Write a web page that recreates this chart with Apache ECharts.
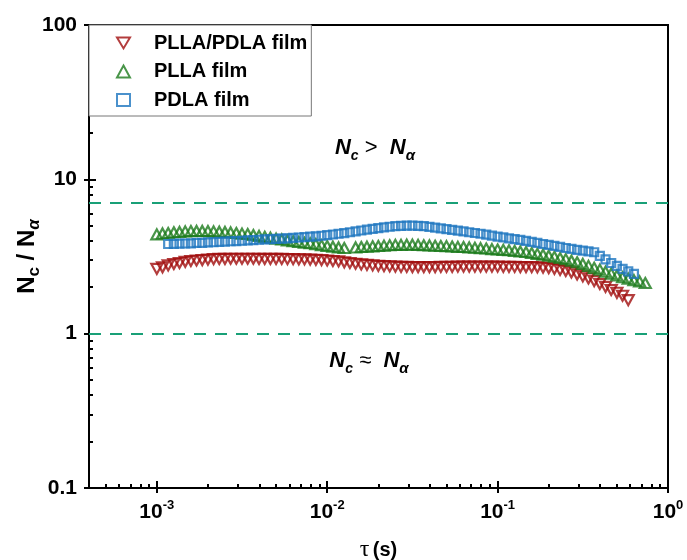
<!DOCTYPE html>
<html><head><meta charset="utf-8">
<script src="https://cdn.jsdelivr.net/npm/echarts@6/dist/echarts.min.js"></script>
<style>html,body{margin:0;padding:0;background:#fff}#c{width:687px;height:560px}</style>
</head><body><div id="c"></div>
<script>
// relaxation time tau (s)
const tau = [
  0.001, 0.00108, 0.001166, 0.001259, 0.001359, 0.001468, 0.001585, 0.001711, 0.001848, 0.001995,
  0.002154, 0.002326, 0.002512, 0.002712, 0.002929, 0.003162, 0.003415, 0.003687, 0.003981, 0.004299,
  0.004642, 0.005012, 0.005412, 0.005843, 0.00631, 0.006813, 0.007356, 0.007943, 0.008577, 0.009261,
  0.01, 0.0108, 0.01166, 0.01259, 0.01359, 0.01468, 0.01585, 0.01711, 0.01848, 0.01995,
  0.02154, 0.02326, 0.02512, 0.02712, 0.02929, 0.03162, 0.03415, 0.03687, 0.03981, 0.04299,
  0.04642, 0.05012, 0.05412, 0.05843, 0.0631, 0.06813, 0.07356, 0.07943, 0.08577, 0.09261,
  0.1, 0.108, 0.1166, 0.1259, 0.1359, 0.1468, 0.1585, 0.1711, 0.1848, 0.1995,
  0.2154, 0.2326, 0.2512, 0.2712, 0.2929, 0.3162, 0.3415, 0.3687, 0.3981, 0.4299,
  0.4642, 0.5012, 0.5412, 0.5843, 0.631, 0.6813, 0.7356
];
// Nc / Nalpha, PLLA/PDLA film
const blendFilm = [
  2.63, 2.69, 2.77, 2.83, 2.87, 2.92, 2.96, 2.98, 3.00, 3.02,
  3.04, 3.05, 3.05, 3.06, 3.06, 3.06, 3.06, 3.06, 3.05, 3.05,
  3.05, 3.05, 3.05, 3.04, 3.04, 3.03, 3.03, 3.02, 3.01, 3.00,
  2.98, 2.96, 2.94, 2.90, 2.87, 2.84, 2.81, 2.79, 2.77, 2.75,
  2.74, 2.73, 2.72, 2.71, 2.71, 2.70, 2.70, 2.70, 2.70, 2.70,
  2.71, 2.71, 2.71, 2.72, 2.72, 2.72, 2.72, 2.72, 2.72, 2.72,
  2.72, 2.71, 2.71, 2.71, 2.70, 2.70, 2.70, 2.69, 2.68, 2.66,
  2.63, 2.59, 2.55, 2.49, 2.42, 2.35, 2.28, 2.19, 2.10, 2.01,
  1.92, 1.84, 1.76, 1.65
];
// PLLA film
const pllaFilm = [
  4.40, 4.46, 4.49, 4.54, 4.56, 4.60, 4.62, 4.63, 4.63, 4.62,
  4.60, 4.58, 4.56, 4.53, 4.49, 4.45, 4.42, 4.36, 4.30, 4.24,
  4.19, 4.13, 4.08, 4.02, 3.97, 3.93, 3.88, 3.85, 3.80, 3.74,
  3.70, 3.66, 3.62, 3.59, null, 3.62, 3.64, 3.66, 3.68, 3.70,
  3.72, 3.74, 3.76, 3.76, 3.77, 3.77, 3.76, 3.74, 3.73, 3.71,
  3.70, 3.69, 3.67, 3.65, 3.64, 3.62, 3.60, 3.58, 3.56, 3.53,
  3.51, 3.49, 3.47, 3.44, 3.41, 3.38, 3.33, 3.29, 3.25, 3.20,
  3.15, 3.09, 3.04, 2.97, 2.90, 2.83, 2.75, 2.67, 2.60, 2.52,
  2.45, 2.38, 2.32, 2.27, 2.22, 2.18, 2.13
];
// PDLA film
const pdlaFilm = [
  null, null, 3.81, 3.82, 3.83, 3.84, 3.85, 3.87, 3.88, 3.90,
  3.91, 3.93, 3.95, 3.97, 3.98, 4.00, 4.02, 4.04, 4.06, 4.08,
  4.09, 4.11, 4.13, 4.15, 4.17, 4.20, 4.22, 4.25, 4.27, 4.31,
  4.35, 4.39, 4.44, 4.48, 4.54, 4.60, 4.66, 4.72, 4.77, 4.83,
  4.88, 4.93, 4.97, 4.99, 5.01, 5.01, 4.99, 4.97, 4.92, 4.86,
  4.81, 4.76, 4.70, 4.65, 4.60, 4.54, 4.49, 4.44, 4.38, 4.32,
  4.26, 4.21, 4.15, 4.10, 4.05, 3.99, 3.93, 3.87, 3.81, 3.76,
  3.70, 3.65, 3.59, 3.54, 3.49, 3.45, 3.41, 3.37, 3.19, 3.03,
  2.87, 2.75, 2.63, 2.53, 2.44
];
const seriesNames = ['PLLA/PDLA film', 'PLLA film', 'PDLA film'];
const refLines = [7, 1];
const xMajor = [0.001, 0.01, 0.1, 1];
const xExponents = ['-3', '-2', '-1', '0'];
const xMinor = [0.0005, 0.0006, 0.0007, 0.0008, 0.0009,
  0.002, 0.003, 0.004, 0.005, 0.006, 0.007, 0.008, 0.009,
  0.02, 0.03, 0.04, 0.05, 0.06, 0.07, 0.08, 0.09,
  0.2, 0.3, 0.4, 0.5, 0.6, 0.7, 0.8, 0.9];
const yMajor = [0.1, 1, 10, 100];
const yTickLabels = ['0.1', '1', '10', '100'];
const yMinor = [0.2, 0.3, 0.4, 0.5, 0.6, 0.7, 0.8, 0.9,
  2, 3, 4, 5, 6, 7, 8, 9, 20, 30, 40, 50, 60, 70, 80, 90];

const FONT = 'Liberation Sans, Arial, sans-serif';
const pairs = (vals) => vals.map((v, i) => [tau[i], v]).filter(p => p[1] != null);
const nearest = (arr, v) => {
  let best = 0, d = Infinity;
  arr.forEach((m, i) => { const dd = Math.abs(Math.log10(m) - Math.log10(v)); if (dd < d) { d = dd; best = i; } });
  return best;
};

const chart = echarts.init(document.getElementById('c'), null, {renderer: 'canvas'});

const baseX = {type: 'log', logBase: 10, min: 0.0004, max: 1, position: 'bottom', gridIndex: 0,
  splitLine: {show: false}, minorTick: {show: false}};
const baseY = {type: 'log', logBase: 10, min: 0.1, max: 100, position: 'left', gridIndex: 0,
  splitLine: {show: false}, minorTick: {show: false}};

const colors = ['#a00c0c', '#1b7a1b', '#1d76bf'];

chart.setOption({
  animation: false,
  backgroundColor: '#fff',
  grid: {left: 89, top: 25, right: 19, bottom: 72, containLabel: false, outerBoundsMode: 'none',
    show: true, borderColor: '#000', borderWidth: 2, backgroundColor: 'transparent'},
  legend: {
    orient: 'vertical', left: 89, top: 25,
    padding: [8, 4, 6, 27],
    itemWidth: 13, itemHeight: 12, itemGap: 8.5,
    borderColor: '#777', borderWidth: 1, backgroundColor: '#fff',
    textStyle: {fontSize: 20, fontWeight: 'bold', color: '#000', fontFamily: FONT, padding: [0, 0, 0, 19]},
    data: [
      {name: seriesNames[0], icon: 'path://M0,0L12,0L6,10Z'},
      {name: seriesNames[1]},
      {name: seriesNames[2]}
    ]
  },
  xAxis: [
    Object.assign({}, baseX, {
      axisLine: {show: true, onZero: false, lineStyle: {color: '#000', width: 2}},
      axisTick: {show: true, inside: false, length: 5, customValues: xMajor, lineStyle: {color: '#000', width: 2}},
      axisLabel: {show: true, margin: 11, customValues: xMajor,
        formatter: (v) => '{b|10}{s|' + xExponents[nearest(xMajor, v)] + '}',
        rich: {
          b: {fontSize: 21, fontWeight: 'bold', fontFamily: FONT, color: '#000', lineHeight: 26},
          s: {fontSize: 13, fontWeight: 'bold', fontFamily: FONT, color: '#000', lineHeight: 13, verticalAlign: 'top'}
        }},
      name: '{t|τ} {s|(s)}', nameLocation: 'middle', nameGap: 50, nameMoveOverlap: false,
      nameTextStyle: {rich: {
        t: {fontSize: 24, fontFamily: 'Liberation Serif, serif', color: '#000'},
        s: {fontSize: 20, fontWeight: 'bold', fontFamily: FONT, color: '#000'}
      }}
    }),
    Object.assign({}, baseX, {
      axisLine: {show: false, onZero: false},
      axisTick: {show: true, inside: true, length: 7, customValues: xMajor, lineStyle: {color: '#000', width: 2}},
      axisLabel: {show: false}
    }),
    Object.assign({}, baseX, {
      axisLine: {show: false, onZero: false},
      axisTick: {show: true, inside: true, length: 4, customValues: xMinor, lineStyle: {color: '#000', width: 2}},
      axisLabel: {show: false}
    })
  ],
  yAxis: [
    Object.assign({}, baseY, {
      axisLine: {show: true, onZero: false, lineStyle: {color: '#000', width: 2}},
      axisTick: {show: true, inside: false, length: 5, customValues: yMajor, lineStyle: {color: '#000', width: 2}},
      axisLabel: {show: true, margin: 12, customValues: yMajor,
        formatter: (v) => yTickLabels[nearest(yMajor, v)],
        fontSize: 21, fontWeight: 'bold', fontFamily: FONT, color: '#000'},
      name: '{N|N}{c|c}{N| / N}{a|α}', nameLocation: 'middle', nameGap: 46, nameMoveOverlap: false,
      nameTextStyle: {rich: {
        N: {fontSize: 24, fontWeight: 'bold', fontFamily: FONT, color: '#000', lineHeight: 32},
        c: {fontSize: 17, fontWeight: 'bold', fontFamily: FONT, color: '#000', lineHeight: 14, verticalAlign: 'bottom'},
        a: {fontSize: 17, fontWeight: 'bold', fontStyle: 'italic', fontFamily: FONT, color: '#000', lineHeight: 14, verticalAlign: 'bottom'}
      }}
    }),
    Object.assign({}, baseY, {
      axisLine: {show: false, onZero: false},
      axisTick: {show: true, inside: true, length: 7, customValues: yMajor, lineStyle: {color: '#000', width: 2}},
      axisLabel: {show: false}
    }),
    Object.assign({}, baseY, {
      axisLine: {show: false, onZero: false},
      axisTick: {show: true, inside: true, length: 4, customValues: yMinor, lineStyle: {color: '#000', width: 2}},
      axisLabel: {show: false}
    })
  ],
  graphic: [
    {type: 'text', x: 375, y: 148, z: 10, style: {
      text: '{N|N}{c|c}{op| >  }{N|N}{a|α}', align: 'center', verticalAlign: 'middle',
      rich: {
        N: {fontSize: 22, fontWeight: 'bold', fontStyle: 'italic', fontFamily: FONT, fill: '#000', lineHeight: 30},
        c: {fontSize: 14, fontWeight: 'bold', fontStyle: 'italic', fontFamily: FONT, fill: '#000', lineHeight: 14, verticalAlign: 'bottom'},
        a: {fontSize: 15, fontWeight: 'bold', fontStyle: 'italic', fontFamily: FONT, fill: '#000', lineHeight: 14, verticalAlign: 'bottom'},
        op: {fontSize: 22, fontFamily: FONT, fill: '#000', lineHeight: 30}
      }}},
    {type: 'text', x: 369, y: 361, z: 10, style: {
      text: '{N|N}{c|c}{op| ≈  }{N|N}{a|α}', align: 'center', verticalAlign: 'middle',
      rich: {
        N: {fontSize: 22, fontWeight: 'bold', fontStyle: 'italic', fontFamily: FONT, fill: '#000', lineHeight: 30},
        c: {fontSize: 14, fontWeight: 'bold', fontStyle: 'italic', fontFamily: FONT, fill: '#000', lineHeight: 14, verticalAlign: 'bottom'},
        a: {fontSize: 15, fontWeight: 'bold', fontStyle: 'italic', fontFamily: FONT, fill: '#000', lineHeight: 14, verticalAlign: 'bottom'},
        op: {fontSize: 22, fontFamily: FONT, fill: '#000', lineHeight: 30}
      }}}
  ],
  series: [
    {name: seriesNames[0], type: 'scatter', data: pairs(blendFilm),
      symbol: 'triangle', symbolRotate: 180, symbolSize: [11, 10],
      itemStyle: {color: 'rgba(255,255,255,0)', borderColor: colors[0], borderWidth: 2.2},
      markLine: {silent: true, symbol: 'none', label: {show: false},
        lineStyle: {color: '#19a077', type: [12, 9], width: 2},
        data: refLines.map(v => ({yAxis: v}))}},
    {name: seriesNames[1], type: 'scatter', data: pairs(pllaFilm),
      symbol: 'triangle', symbolSize: [11, 10],
      itemStyle: {color: 'rgba(255,255,255,0)', borderColor: colors[1], borderWidth: 2.2}},
    {name: seriesNames[2], type: 'scatter', data: pairs(pdlaFilm),
      symbol: 'rect', symbolSize: 8,
      itemStyle: {color: 'rgba(255,255,255,0)', borderColor: colors[2], borderWidth: 2.2}}
  ]
});
</script>
</body></html>
